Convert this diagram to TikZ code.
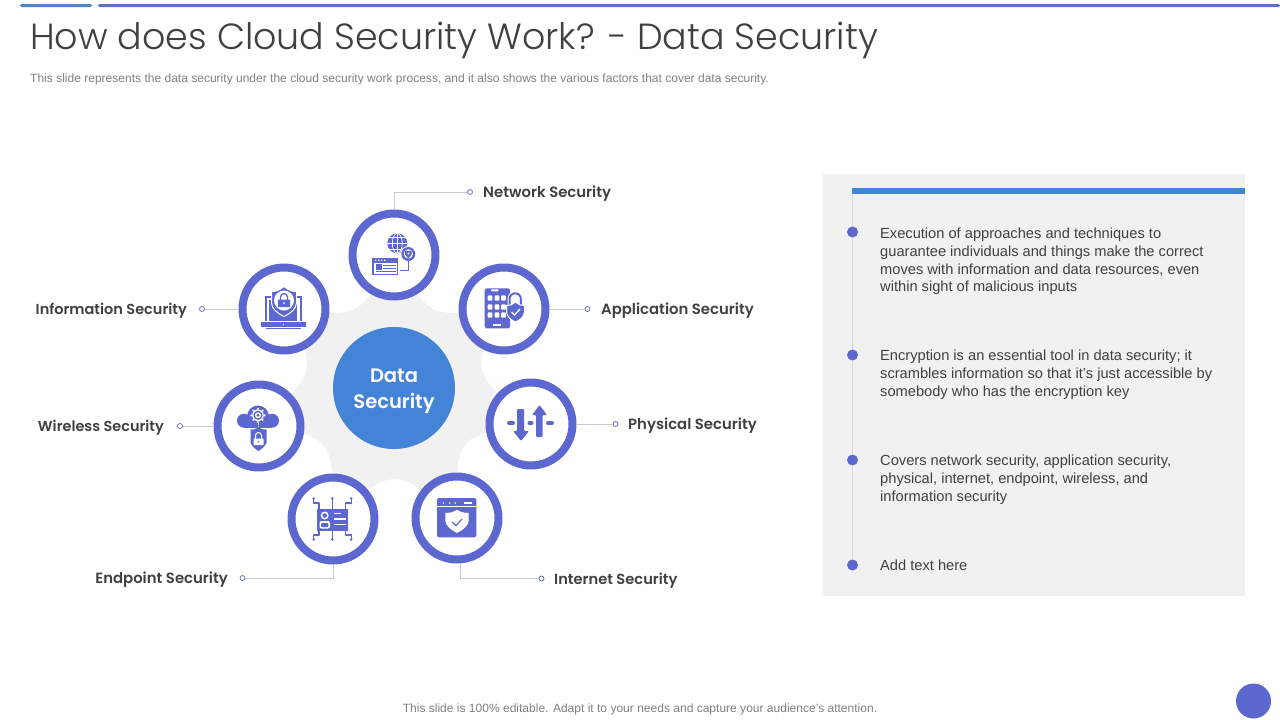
\documentclass[tikz,border=0pt]{standalone}
\usepackage{fontspec}
\setmainfont{Liberation Sans}
\newfontfamily\headfont{Poppins Light}
\newfontfamily\labelfont{Poppins SemiBold}
\usetikzlibrary{calc}
\definecolor{ringblue}{HTML}{5C68CF}
\definecolor{hubblue}{HTML}{4484D6}
\definecolor{panelgray}{HTML}{F1F1F1}
\definecolor{inktext}{HTML}{404040}
\definecolor{leadgray}{HTML}{C9CAD6}
\tikzset{
  ring/.style={circle, draw=ringblue, fill=white, line width=8pt, minimum size=83pt, inner sep=0},
  hubnode/.style={circle, fill=hubblue, minimum size=122pt, inner sep=0},
  tipdot/.style={circle, draw=ringblue!70!gray, fill=white, line width=0.8pt, minimum size=5pt, inner sep=0},
  leader/.style={draw=leadgray, line width=0.9pt},
  seclabel/.style={anchor=west, inner sep=0, text=inktext, font=\labelfont\fontsize{#1}{20}\selectfont},
  seclabel/.default=14.85,
  bullet/.style={circle, fill=ringblue, minimum size=11pt, inner sep=0},
  bodytext/.style={anchor=north west, inner sep=0, align=left, text=inktext, font=\fontsize{14.65}{17.6}\selectfont},
  icon/.style={fill=ringblue, draw=none},
  cut/.style={draw=white, line width=1pt},
}
\begin{document}
\begin{tikzpicture}[x=1pt, y=-1pt, line join=round]
  \useasboundingbox (0,0) rectangle (1280,720);

  % Top bars
  \fill[hubblue!80!gray, rounded corners=1.3pt] (20,4) rectangle (92,7);
  \fill[ringblue!85!gray, rounded corners=1.3pt] (98,4) rectangle (1280,7);

  % Title and subtitle
  \node[anchor=west, inner sep=0, text=inktext, font=\headfont\fontsize{36.4}{44}\selectfont] (title) at (30,40) {How does Cloud Security Work? - Data Security};
  \node[anchor=west, inner sep=0, text=gray, font=\fontsize{12.03}{14}\selectfont] (subtitle) at (30,79) {This slide represents the data security under the cloud security work process, and it also shows the various factors that cover data security.};

  % Centres
  \coordinate (hub) at (394,388);
  \coordinate (net) at (394,255);
  \coordinate (app) at (504,309);
  \coordinate (phy) at (531,424);
  \coordinate (int) at (457,518);
  \coordinate (end) at (333,519);
  \coordinate (wir) at (259,426);
  \coordinate (inf) at (284,309);

  % Gray gear behind the rings
  \foreach \a/\b/\m in {net/app/-64, app/phy/-13, phy/int/38, int/end/90, end/wir/141, wir/inf/193, inf/net/244}
    \fill[panelgray] (hub) -- (\a) .. controls ($(hub)+(\m:78)$) .. (\b) -- cycle;

  % Rings and hub
  \node[hubnode] (hubnode) at (hub) {};
  \node[text=white, align=center, inner sep=0, font=\labelfont\fontsize{19.5}{26}\selectfont] (hubtext) at (394,391) {Data\\Security};
  \foreach \c in {net,app,phy,int,end,wir,inf}
    \node[ring] (\c ring) at (\c) {};

  % Leaders and labels
  \node[tipdot] (netdot) at (470,192) {};
  \node[tipdot] (appdot) at (587.5,309) {};
  \node[tipdot] (phydot) at (615.5,424) {};
  \node[tipdot] (intdot) at (541.5,578.5) {};
  \node[tipdot] (enddot) at (242.5,578) {};
  \node[tipdot] (wirdot) at (180,426) {};
  \node[tipdot] (infdot) at (202,309) {};
  \draw[leader] (netring.north) |- (netdot);
  \draw[leader] (appring.east) -- (appdot);
  \draw[leader] (phyring.east) -- (phydot);
  \draw[leader] (intring.-86) |- (intdot);
  \draw[leader] (endring.south) |- (enddot);
  \draw[leader] (wirring.west) -- (wirdot);
  \draw[leader] (infring.west) -- (infdot);
  \node[seclabel] (netlabel) at (483,194) {Network Security};
  \node[seclabel] (applabel) at (601,311) {Application Security};
  \node[seclabel] (phylabel) at (628,426) {Physical Security};
  \node[seclabel=14.65] (intlabel) at (554,581) {Internet Security};
  \node[seclabel, anchor=east] (endlabel) at (228,580) {Endpoint Security};
  \node[seclabel=14.45, anchor=east] (wirlabel) at (164,428) {Wireless Security};
  \node[seclabel=14.5, anchor=east] (inflabel) at (187,311) {Information Security};

  % Network icon
  \begin{scope}[shift={(364,225)}]
    \fill[icon] (33.3,18.3) circle (10);
    \draw[cut, line width=0.7pt] (33.3,8.3) -- (33.3,28.3) (23.3,18.3) -- (43.3,18.3) (25,12.5) -- (41.6,12.5) (25,24) -- (41.6,24);
    \draw[cut, line width=0.7pt] (33.3,18.3) circle [x radius=5, y radius=10];
    \fill[white] (44.3,29) circle (8);
    \fill[icon] (44.3,29) circle (7);
    \fill[white] (44.3,29) circle (4.6);
    \fill[icon] (41,26) -- (47.6,26) -- (47.6,29.5) -- (44.3,33.5) -- (41,29.5) -- cycle;
    \fill[white] (44.3,28.5) circle (1);
    \fill[icon] (8.3,33.3) rectangle (34.3,50);
    \fill[white] (10,37.5) rectangle (32.6,48.5);
    \fill[icon] (11.5,39) rectangle (17.5,44.5);
    \draw[ringblue, line width=1pt] (19,40) -- (31.5,40) (19,43) -- (31.5,43) (11.5,46.8) -- (31.5,46.8);
    \fill[white] (11,34.5) rectangle +(1.3,1.3) (14,34.5) rectangle +(1.3,1.3) (17,34.5) rectangle +(1.3,1.3) (20,34.5) rectangle +(1.3,1.3);
    \draw[ringblue, line width=0.9pt] (36,45) -- (44.3,45) -- (44.3,36);
  \end{scope}

  % Application icon
  \begin{scope}[shift={(474,279)}]
    \fill[icon, rounded corners=1.5pt] (10.7,9.3) rectangle (36,49.3);
    \fill[white, rounded corners=0.8pt] (17,10.3) rectangle (24.5,12.3);
    \fill[white] (19,45) rectangle (27,47);
    \foreach \gx in {16,23,29.5}
      \foreach \gy in {19,28,36}
        \fill[white, rounded corners=0.8pt] (\gx-2.3,\gy-2.6) rectangle (\gx+2.3,\gy+2.6);
    \draw[white, line width=4pt] (35.5,27) -- (35.5,20) arc[start angle=180, end angle=360, radius=5.7] -- (46.9,26);
    \draw[ringblue, line width=2pt] (35.5,27) -- (35.5,20) arc[start angle=180, end angle=360, radius=5.7] -- (46.9,26);
    \filldraw[fill=ringblue, draw=white, line width=1pt] (41.5,23) .. controls (37,26.5) and (35,26.5) .. (32.5,26.5) -- (32.5,33) .. controls (33,38) and (37,41) .. (41.5,43) .. controls (46,41) and (50,38) .. (50.5,33) -- (50.5,26.5) .. controls (48,26.5) and (46,26.5) .. (41.5,23) -- cycle;
    \draw[white, line width=1.3pt] (37.5,33) -- (40.5,36) -- (46,30);
  \end{scope}

  % Information icon
  \begin{scope}[shift={(254,279)}]
    \fill[icon] (11,17) rectangle (47.7,42);
    \fill[white] (13,19) rectangle (45.7,42);
    \fill[icon] (15.3,21) rectangle (43.4,42);
    \fill[icon] (6.7,43.3) rectangle (51.7,47.7);
    \fill[white] (28.5,45) rectangle +(1.5,1.3);
    \draw[ringblue, line width=0.9pt] (12,49.3) -- (47,49.3);
    \filldraw[fill=ringblue, draw=white, line width=1pt] (30,7.5) .. controls (25,11.5) and (22,12.5) .. (17.5,12.5) -- (17.5,24) .. controls (18,30) and (23,34) .. (30,37.5) .. controls (37,34) and (42,30) .. (42.5,24) -- (42.5,12.5) .. controls (38,12.5) and (35,11.5) .. (30,7.5) -- cycle;
    \fill[white] (30,21.5) circle (10);
    \draw[ringblue, line width=1.3pt] (26.5,21) -- (26.5,18) arc[start angle=180, end angle=360, radius=3.5] -- (33.5,21);
    \fill[icon, rounded corners=0.5pt] (24,20.5) rectangle (36,28);
    \fill[white] (30,24) circle (1);
  \end{scope}

  % Wireless icon
  \begin{scope}[shift={(229,396)}]
    \fill[icon] (15,24.7) circle (7);
    \fill[icon] (43,24.7) circle (7);
    \fill[icon] (29,20.5) circle (11);
    \fill[icon] (15,21) rectangle (43,31.7);
    \fill[white] (29,19.3) circle (5.8);
    \foreach \ga in {0,45,...,315}
      \fill[white] ($(29,19.3)+(\ga:6.6)$) circle (1.1);
    \fill[icon] (29,19.3) circle (4.6);
    \fill[white] (29,19.3) circle (3);
    \fill[icon] (29,19.3) circle (1.6);
    \draw[cut] (29,27) -- (29,31);
    \draw[ringblue, line width=0.8pt] (26,32) -- (29,29) -- (32,32);
    \fill[icon] (29.5,31.5) .. controls (26,33.5) and (24,33.5) .. (21.5,33.5) -- (21.5,47) .. controls (23,50) and (26,53) .. (29.5,55) .. controls (33,53) and (36,50) .. (37.5,47) -- (37.5,33.5) .. controls (35,33.5) and (33,33.5) .. (29.5,31.5) -- cycle;
    \draw[white, line width=1pt] (26.5,43) -- (26.5,39.5) arc[start angle=180, end angle=360, radius=3] -- (32.5,43);
    \fill[white, rounded corners=0.5pt] (24.5,42.5) rectangle (34.5,49);
    \fill[icon] (29.5,45.7) circle (0.8);
  \end{scope}

  % Endpoint icon
  \begin{scope}[shift={(303,489)}]
    \fill[icon] (14,19.5) rectangle (45,41.7);
    \fill[white] (21.7,26.5) circle (4);
    \fill[white, rounded corners=2pt] (16.5,39.5) -- (16.5,32) -- (27,32) -- (27,39.5) -- cycle;
    \fill[icon] (21.7,26.5) circle (2.3);
    \fill[icon, rounded corners=1pt] (18,34) rectangle (25.4,38);
    \draw[white, line width=1.4pt] (30.5,24.5) -- (38,24.5) (30.5,30) -- (42.5,30) (30.5,35.5) -- (42.5,35.5);
    \draw[ringblue, line width=1.2pt] (29.3,20) -- (29.3,10) (29.3,41.7) -- (29.3,50)
      (16,20) -- (16,14) -- (10.7,14) -- (10.7,10) (42.7,20) -- (42.7,14) -- (48.3,14) -- (48.3,10)
      (16,41.7) -- (16,46) -- (10.7,46) -- (10.7,50) (42.7,41.7) -- (42.7,46) -- (48.3,46) -- (48.3,50);
    \fill[icon] (29.3,9.5) circle (1.4) (10.7,9.5) circle (1.4) (48.3,9.5) circle (1.4) (29.3,50.5) circle (1.4) (10.7,50.5) circle (1.4) (48.3,50.5) circle (1.4);
  \end{scope}

  % Internet icon
  \begin{scope}[shift={(427,488)}]
    \fill[icon, rounded corners=1.5pt] (10,10) rectangle (49.3,49.3);
    \draw[cut] (10,18.3) -- (49.3,18.3);
    \fill[white] (16.7,15) circle (0.8) (22.7,15) circle (0.8) (28.3,15) circle (0.8);
    \fill[white] (37.3,14.3) rectangle (45,15.8);
    \fill[white] (30,21.7) .. controls (26,24.5) and (22,25) .. (18.3,25) -- (18.3,33) .. controls (19,38) and (24,42) .. (30,45) .. controls (36,42) and (41,38) .. (41.7,33) -- (41.7,25) .. controls (38,25) and (34,24.5) .. (30,21.7) -- cycle;
    \draw[ringblue, line width=1.2pt] (25,34) -- (29,37.7) -- (35,31);
  \end{scope}

  % Physical icon
  \fill[icon, rounded corners=1pt] (517,409) -- (524,409) -- (524,431) -- (529,431) -- (521,441) -- (513,431) -- (517,431) -- cycle;
  \fill[icon, rounded corners=1pt] (539.5,405) -- (547,415) -- (542.5,415) -- (542.5,437) -- (536,437) -- (536,415) -- (532,415) -- cycle;
  \draw[ringblue, line width=4pt, line cap=round] (509,423) -- (513,423) (529.5,423) -- (531.5,423) (548,423) -- (552,423);

  % Right panel
  \fill[panelgray] (823,174) rectangle (1245,596);
  \fill[hubblue] (852,188) rectangle (1245,194);
  \coordinate (spinetop) at (852.5,194);
  \node[bullet] (bulone) at (852.5,232) {};
  \node[bullet] (bultwo) at (852.5,355) {};
  \node[bullet] (bulthree) at (852.5,460) {};
  \node[bullet] (bulfour) at (852.5,565) {};
  \draw[draw=black!15, line width=0.9pt] (spinetop) -- (bulone) (bulone) -- (bultwo) (bultwo) -- (bulthree) (bulthree) -- (bulfour);
  \node[bodytext] (txtone) at (880,228) {Execution of approaches and techniques to\\guarantee individuals and things make the correct\\moves with information and data resources, even\\within sight of malicious inputs};
  \node[bodytext] (txttwo) at (880,350) {Encryption is an essential tool in data security; it\\scrambles information so that it's just accessible by\\somebody who has the encryption key};
  \node[bodytext] (txtthree) at (880,455) {Covers network security, application security,\\physical, internet, endpoint, wireless, and\\information security};
  \node[bodytext] (txtfour) at (880,560) {Add text here};

  % Footer
  \node[text=gray, inner sep=0, font=\fontsize{12.03}{14}\selectfont] (footer) at (640,709.5) {This slide is 100\% editable. Adapt it to your needs and capture your audience's attention.};
  \node[circle, fill=ringblue, minimum size=35pt, inner sep=0] (corner) at (1253.5,701) {};
\end{tikzpicture}
\end{document}
